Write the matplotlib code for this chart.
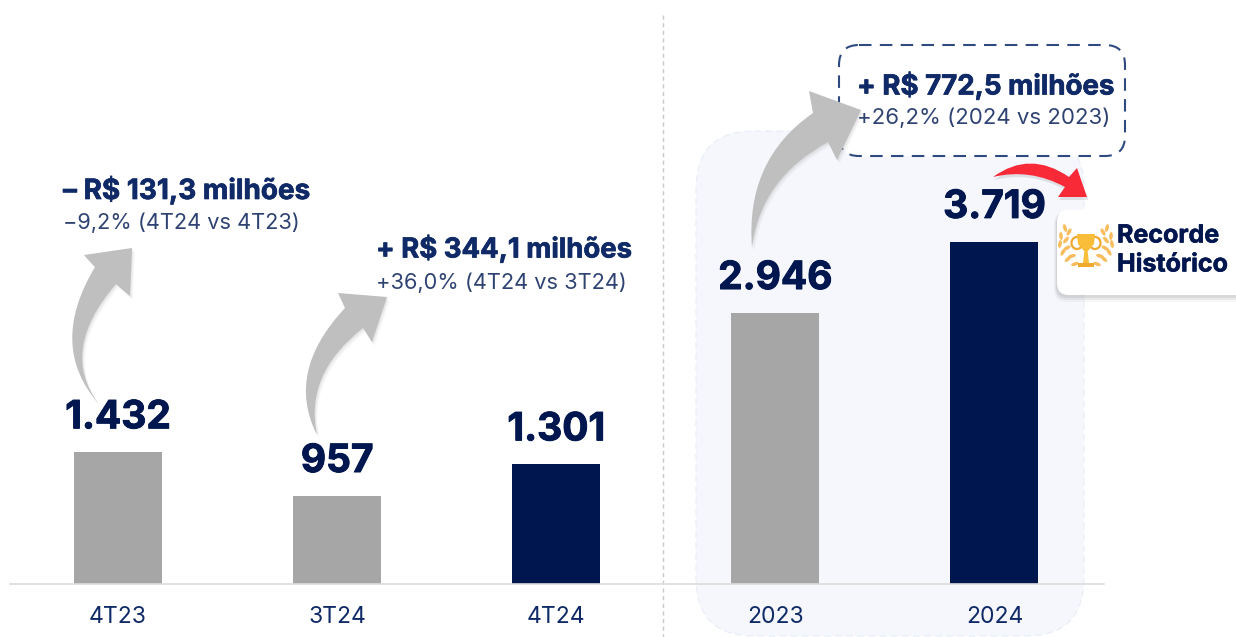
import matplotlib
matplotlib.use("Agg")
import matplotlib.pyplot as plt
import matplotlib.patheffects as pe
from matplotlib.patches import FancyBboxPatch, PathPatch, Polygon, Ellipse, Rectangle
from matplotlib.path import Path

W, H = 1236, 637
NAVY = "#00164f"
TXT = "#0f2a66"
SUB = "#2f4373"
GRAY = "#a6a6a6"

categories = ["4T23", "3T24", "4T24", "2023", "2024"]
values = [1432, 957, 1301, 2946, 3719]
labels = ["1.432", "957", "1.301", "2.946", "3.719"]
colors = [GRAY, GRAY, NAVY, GRAY, NAVY]

note_titles = ["– R$ 131,3 milhões", "+ R$ 344,1 milhões", "+ R$ 772,5 milhões"]
note_subs = ["−9,2% (4T24 vs 4T23)", "+36,0% (4T24 vs 3T24)", "+26,2% (2024 vs 2023)"]
record_lines = ["Recorde", "Histórico"]

FONT = "Inter"
plt.rcParams["font.family"] = [FONT, "DejaVu Sans"]


def heavy(color, w=0.5):
    return [pe.withStroke(linewidth=w, foreground=color)]


fig = plt.figure(figsize=(W / 100, H / 100), dpi=100, facecolor="white")

# background panel and divider in pixel coordinates
bg = fig.add_axes([0, 0, 1, 1], zorder=0)
bg.set_xlim(0, W); bg.set_ylim(H, 0); bg.axis("off")
bg.add_patch(FancyBboxPatch((696, 131), 388, 505, boxstyle="round,pad=0,rounding_size=58",
                            fc="#f5f7fc", ec="#e8edf8", lw=0.8, ls=(0, (6, 4))))
bg.plot([663, 663], [15, 637], color="#c9c9c9", lw=1.0, ls=(0, (3, 2.5)))

# bars on a data axis
ax = fig.add_axes([10 / W, (H - 584) / H, 1094 / W, 584 / H], zorder=1)
ax.patch.set_alpha(0)
ax.set_xlim(-0.493, 4.5)
ax.set_ylim(0, 584 / 0.092)
x = list(range(len(categories)))
ax.bar(x, values, width=88 / 219, color=colors, zorder=2)
for xi, v, lab in zip(x, values, labels):
    ax.annotate(lab, (xi, v), xytext=(0, 24.8), textcoords="offset points", ha="center", va="center",
                fontsize=28, fontweight="bold", color=NAVY, path_effects=heavy(NAVY, 0.7))
ax.set_xticks(x, categories)
ax.tick_params(axis="x", length=0, pad=16, labelsize=16.5, labelcolor=TXT)
ax.set_yticks([])
for s in ("top", "left", "right"):
    ax.spines[s].set_visible(False)
ax.spines["bottom"].set_color("#dcdcdc")
ax.spines["bottom"].set_linewidth(1.2)

# decorations in pixel coordinates
ov = fig.add_axes([0, 0, 1, 1], zorder=2)
ov.set_xlim(0, W); ov.set_ylim(H, 0); ov.axis("off")
ov.patch.set_alpha(0)

# dashed callout
ov.add_patch(FancyBboxPatch((839, 45), 286, 111, boxstyle="round,pad=0,rounding_size=20",
                            fc="white", ec="#2f4a80", lw=1.5, ls=(0, (6, 4)), zorder=1))


def curved_arrow(tip, lb, ln, ctrl_l, tail, ctrl_r, rn, rb, color="#bfbfbf", z=3):
    verts = [lb, tip, rb, rn, ctrl_r, tail, ctrl_l, ln, lb]
    codes = [Path.MOVETO, Path.LINETO, Path.LINETO, Path.LINETO,
             Path.CURVE3, Path.CURVE3, Path.CURVE3, Path.CURVE3, Path.LINETO]
    for off, a in ((4, 0.04), (3, 0.05), (2, 0.06), (1, 0.08)):
        sh = [(vx + off * 0.7, vy + off) for vx, vy in verts]
        ov.add_patch(PathPatch(Path(sh, codes), fc="#808080", ec="none", alpha=a, zorder=z))
    ov.add_patch(PathPatch(Path(verts, codes), fc=color, ec="none", zorder=z + 0.1))


curved_arrow((132, 248), (84, 255), (95, 267), (48, 345), (98, 403), (59, 350), (116, 284), (130, 296))
curved_arrow((387, 297), (338, 293), (345, 308), (285, 372), (317, 435), (304, 374), (363, 328), (372, 342))
curved_arrow((861, 110), (809, 91), (813, 113), (745, 160), (752, 248), (760, 179), (828, 142), (837, 160))

# notes
note_pos = [(63, 190, 223), (376, 249, 283), (857, 86, 118)]
sub_sizes = [15.7, 15.7, 16.0]
title_sizes = [20.1, 19.8, 19.9]
for (nx, y1, y2), t, s, ss, ts in zip(note_pos, note_titles, note_subs, sub_sizes, title_sizes):
    ov.text(nx, y1, t, fontsize=ts, fontweight="bold", color=TXT, va="center", ha="left", zorder=5,
            path_effects=heavy(TXT, 0.5))
    ov.text(nx, y2, s, fontsize=ss, color=SUB, va="center", ha="left", zorder=5)

# record card with shadow
for pad, a in ((6, 0.03), (4, 0.05), (2, 0.07)):
    ov.add_patch(FancyBboxPatch((1057 - pad / 2, 212), 200 + pad, 84 + pad,
                                boxstyle="round,pad=0,rounding_size=12",
                                fc="#000000", ec="none", alpha=a, zorder=2))
ov.add_patch(FancyBboxPatch((1057, 210), 200, 85, boxstyle="round,pad=0,rounding_size=12",
                            fc="white", ec="none", zorder=2.5))
for (ty, line) in zip((236, 265), record_lines):
    ov.text(1117, ty, line, fontsize=18, fontweight="bold", color=NAVY, va="center", ha="left", zorder=5,
            path_effects=heavy(NAVY, 0.4))

# red arrow
red = [(993, 177), (1030, 150), (1069, 177), (1077, 168), (1087, 197), (1058, 197), (1065, 187), (1030, 168), (993, 177)]
red_codes = [Path.MOVETO, Path.CURVE3, Path.CURVE3, Path.LINETO, Path.LINETO, Path.LINETO, Path.LINETO,
             Path.CURVE3, Path.CURVE3]
ov.add_patch(PathPatch(Path([(vx + 1, vy + 3) for vx, vy in red], red_codes), fc="#777777", ec="none", alpha=0.18, zorder=3))
ov.add_patch(PathPatch(Path(red, red_codes), fc="#f92a37", ec="none", zorder=3.1))

# trophy icon
gold = "#f9bd3a"
dark = "#f0a92e"
leaf = "#f7bd5e"
ov.add_patch(Polygon([(1077, 234), (1095, 234), (1094, 244), (1088, 251), (1084, 251), (1078, 244)], fc=gold, ec="none", zorder=4))
ov.add_patch(Ellipse((1077, 243), 11, 12, fc="none", ec=dark, lw=1.6, zorder=3.9))
ov.add_patch(Ellipse((1095, 243), 11, 12, fc="none", ec=dark, lw=1.6, zorder=3.9))
ov.add_patch(Polygon([(1084.5, 250), (1087.5, 250), (1089, 263), (1083, 263)], fc=gold, ec="none", zorder=4))
ov.add_patch(Rectangle((1078, 263), 16, 4, fc=dark, ec="none", zorder=4))
for dx, dy, ang in ((21, -20, 15), (25, -12, 5), (26, -4, -10), (23, 4, -30), (18, 11, -50), (11, 16, -70),
                    (17, -16, -30), (20, -8, -40), (19, 0, -60), (14, 8, -75)):
    for sgn in (-1, 1):
        ov.add_patch(Ellipse((1086 + sgn * dx, 248 + dy), 3.6, 8, angle=sgn * ang, fc=leaf, ec="none", zorder=4))

fig.savefig("out.png", dpi=100)
